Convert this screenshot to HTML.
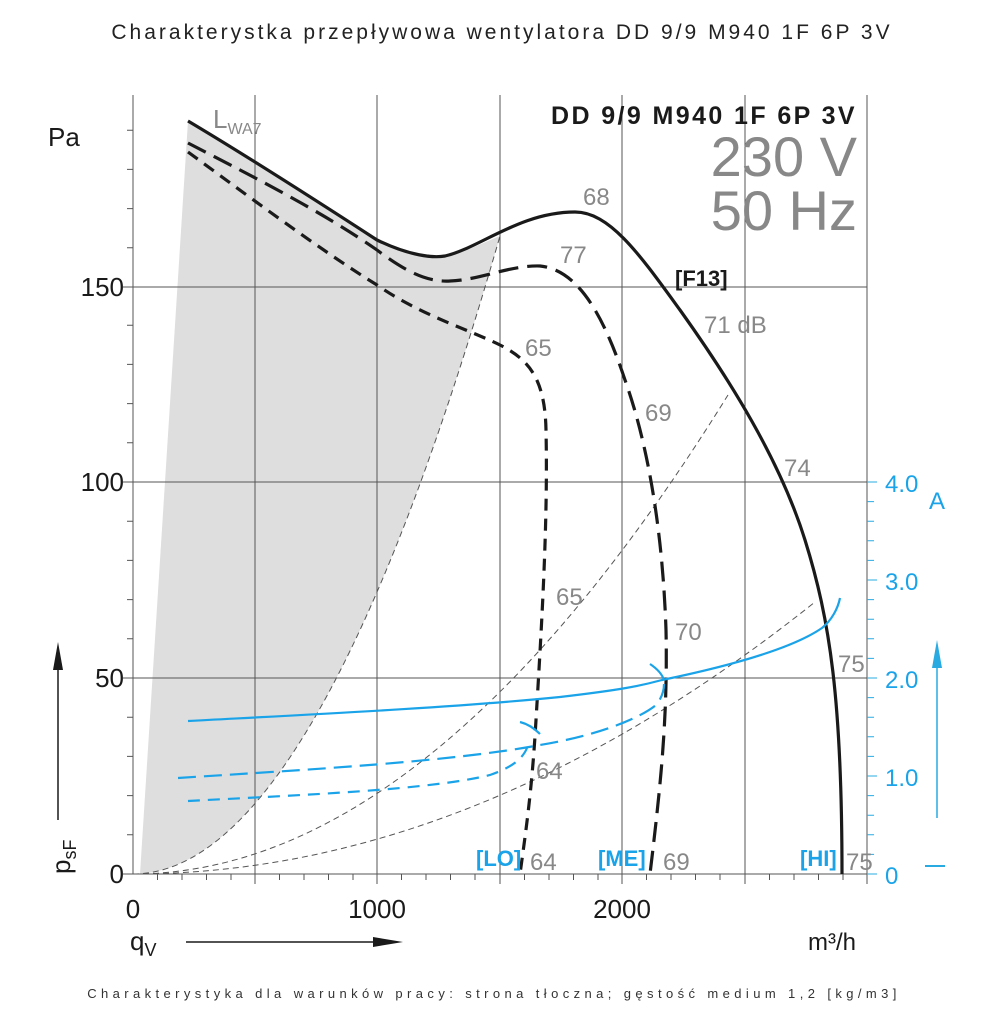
<!DOCTYPE html>
<html><head><meta charset="utf-8"><style>
html,body{margin:0;padding:0;background:#fff;}
svg{display:block;font-family:"Liberation Sans",sans-serif;}
</style></head><body>
<svg width="1000" height="1028" viewBox="0 0 1000 1028" xmlns="http://www.w3.org/2000/svg">
<text x="502" y="39" font-size="21" text-anchor="middle" fill="#222" letter-spacing="3">Charakterystka przepływowa wentylatora DD 9/9 M940 1F 6P 3V</text>
<text x="494" y="998" font-size="13" text-anchor="middle" fill="#333" letter-spacing="4.4">Charakterystyka dla warunków pracy: strona tłoczna; gęstość medium 1,2 [kg/m3]</text>

<!-- shading -->
<path d="M188,121 C230,146 300,190 377,240 C410,256 433,258 445,256 C465,252 480,244 500,236 Q316.5,874 133,874 L140,874 Z" fill="#dedede"/>

<!-- grid -->
<g stroke="#555" stroke-width="1">
<line x1="133" y1="95" x2="133" y2="874"/>
<line x1="255" y1="95" x2="255" y2="884"/>
<line x1="377" y1="95" x2="377" y2="884"/>
<line x1="500" y1="95" x2="500" y2="884"/>
<line x1="622" y1="95" x2="622" y2="884"/>
<line x1="745" y1="95" x2="745" y2="884"/>
<line x1="867" y1="95" x2="867" y2="884"/>
<line x1="123" y1="287" x2="867" y2="287"/>
<line x1="123" y1="482" x2="867" y2="482"/>
<line x1="123" y1="678" x2="867" y2="678"/>
<line x1="123" y1="874" x2="867" y2="874"/>
</g>
<g stroke="#555" stroke-width="1">
<path d="M157.5,874v6M182,874v6M206.5,874v6M231,874v6M279.5,874v6M304,874v6M328.5,874v6M353,874v6M401.5,874v6M426,874v6M450.5,874v6M475,874v6M524.5,874v6M549,874v6M573.5,874v6M598,874v6M646.5,874v6M671,874v6M695.5,874v6M720,874v6M769.5,874v6M794,874v6M818.5,874v6M843,874v6"/>
<path d="M127,834.8h6M127,795.6h6M127,756.4h6M127,717.2h6M127,638.8h6M127,599.6h6M127,560.4h6M127,521.2h6M127,442.8h6M127,403.6h6M127,364.4h6M127,325.2h6M127,247.8h6M127,208.6h6M127,169.4h6M127,130.2h6"/>
</g>
<g stroke="#29abe2" stroke-width="1">
<line x1="867" y1="874" x2="877" y2="874"/><line x1="867" y1="776" x2="877" y2="776"/><line x1="867" y1="678" x2="877" y2="678"/><line x1="867" y1="580" x2="877" y2="580"/><line x1="867" y1="482" x2="877" y2="482"/>
<path d="M867,854.4h7M867,834.8h7M867,815.2h7M867,795.6h7M867,756.4h7M867,736.8h7M867,717.2h7M867,697.6h7M867,658.4h7M867,638.8h7M867,619.2h7M867,599.6h7M867,560.4h7M867,540.8h7M867,521.2h7M867,501.6h7"/>
<line x1="925" y1="866" x2="945" y2="866" stroke-width="2"/>
<line x1="937" y1="818" x2="937" y2="665" stroke-width="1.5"/>
</g>
<polygon points="937,640 932,668 942,668" fill="#29abe2"/>

<!-- system lines -->
<g fill="none" stroke="#555" stroke-width="1" stroke-dasharray="6,4">
<path d="M133,874 Q316.5,874 500,236"/>
<path d="M133,874 Q430.5,874 728,395"/>
<path d="M133,874 Q474,874 815,602"/>
</g>

<!-- fan curves -->
<g fill="none" stroke="#1a1a1a" stroke-width="3.2">
<path d="M188,121 C230,146 300,190 377,240 C410,256 433,258 445,256 C480,248 520,212 575,212 C610,212 640,255 680,310 C730,380 780,460 805,540 C830,620 842,700 842,874"/>
<path d="M188,143 C240,170 320,210 377,250 C410,275 430,282 450,281 C480,280 510,265 540,266 C580,270 605,320 625,380 C650,450 663,540 666,630 C668,720 660,790 650,874" stroke-dasharray="20,9"/>
<path d="M188,152 C240,190 320,250 377,285 C420,315 470,330 500,345 C530,360 545,380 546,430 C548,520 542,620 536,720 C532,790 526,830 520,874" stroke-dasharray="12,8"/>
</g>

<!-- current curves -->
<g fill="none" stroke="#1aa3e8" stroke-width="2.2">
<path d="M188,721 C300,715 450,708 560,697 C620,690 640,686 662,680 C720,668 790,650 822,628 C832,620 838,608 840,598"/>
<path d="M650,664 C656,668 662,674 664,680"/>
<path d="M178,778 C300,770 450,762 540,745 C600,735 640,718 656,705 C662,698 664,690 664,684" stroke-dasharray="18,8"/>
<path d="M188,801 C300,795 430,790 490,775 C510,768 522,760 527,748" stroke-dasharray="12,8"/>
<path d="M520,722 C528,724 534,728 540,734"/>
</g>

<!-- text -->
<g font-size="26" fill="#1a1a1a">
<text x="48" y="146">Pa</text>
<text x="124" y="296" text-anchor="end">150</text>
<text x="124" y="491" text-anchor="end">100</text>
<text x="124" y="687" text-anchor="end">50</text>
<text x="124" y="883" text-anchor="end">0</text>
<text x="133" y="918" text-anchor="middle">0</text>
<text x="377" y="918" text-anchor="middle">1000</text>
<text x="622" y="918" text-anchor="middle">2000</text>
<text x="808" y="950" font-size="24">m³/h</text>
<text x="130" y="950">q<tspan font-size="18" dy="6">V</tspan></text>
<text transform="translate(70,874) rotate(-90)">p<tspan font-size="18" dy="6">sF</tspan></text>
</g>
<line x1="186" y1="942" x2="380" y2="942" stroke="#1a1a1a" stroke-width="1.5"/>
<polygon points="403,942 373,937 373,947" fill="#1a1a1a"/>
<line x1="58" y1="820" x2="58" y2="665" stroke="#1a1a1a" stroke-width="1.5"/>
<polygon points="58,642 53,670 63,670" fill="#1a1a1a"/>

<text x="857" y="124" font-size="25" font-weight="bold" text-anchor="end" fill="#1a1a1a" letter-spacing="2.4">DD 9/9 M940 1F 6P 3V</text>
<text x="857" y="176" font-size="56" text-anchor="end" fill="#888">230 V</text>
<text x="857" y="230" font-size="56" text-anchor="end" fill="#888">50 Hz</text>
<text x="213" y="128" font-size="26" fill="#888">L<tspan font-size="16" dy="6">WA7</tspan></text>
<text x="675" y="286" font-size="22" font-weight="bold" fill="#1a1a1a">[F13]</text>
<g font-size="24" fill="#888">
<text x="583" y="205">68</text>
<text x="560" y="263">77</text>
<text x="704" y="333">71 dB</text>
<text x="525" y="356">65</text>
<text x="645" y="421">69</text>
<text x="784" y="476">74</text>
<text x="556" y="605">65</text>
<text x="675" y="640">70</text>
<text x="838" y="672">75</text>
<text x="536" y="779">64</text>
<text x="530" y="870">64</text>
<text x="663" y="870">69</text>
<text x="846" y="870">75</text>
</g>
<g font-size="22" fill="#1aa3e8" font-weight="bold">
<text x="476" y="866">[LO]</text>
<text x="598" y="866">[ME]</text>
<text x="800" y="866">[HI]</text>
</g>
<g font-size="24" fill="#1aa3e8">
<text x="885" y="884">0</text>
<text x="885" y="786">1.0</text>
<text x="885" y="688">2.0</text>
<text x="885" y="590">3.0</text>
<text x="885" y="492">4.0</text>
<text x="929" y="509">A</text>
</g>
</svg>
</body></html>
